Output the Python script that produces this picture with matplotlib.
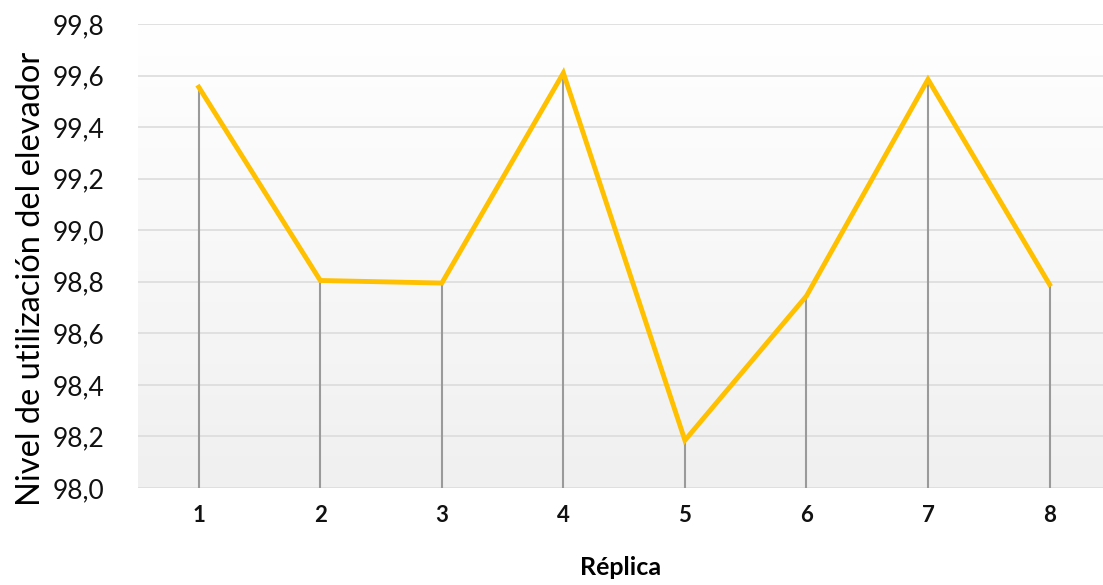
import numpy as np
import matplotlib
matplotlib.use("Agg")
import matplotlib.pyplot as plt
from matplotlib.colors import LinearSegmentedColormap

plt.rcParams['font.family'] = ['Lato', 'DejaVu Sans']

# data
replicas = [1, 2, 3, 4, 5, 6, 7, 8]
nivel = [99.555, 98.805, 98.795, 99.61, 98.185, 98.745, 99.585, 98.79]
yticks = [98.0, 98.2, 98.4, 98.6, 98.8, 99.0, 99.2, 99.4, 99.6, 99.8]
ytick_labels = ['98,0', '98,2', '98,4', '98,6', '98,8', '99,0', '99,2', '99,4', '99,6', '99,8']

fig = plt.figure(figsize=(11.03, 5.85), dpi=100)
ax = fig.add_axes([138/1103, 1 - 488/585, 1 - 138/1103, (488 - 24)/585])

x0, x1 = 0.5, 8.44
y0, y1 = 98.0, 99.8
ax.set_xlim(x0, x1)
ax.set_ylim(y0, y1)

# gradient background (white on top -> light gray at bottom)
cmap = LinearSegmentedColormap.from_list('bg', ['#f0f0f0', '#ffffff'])
grad = np.linspace(0, 1, 256).reshape(-1, 1)
ax.imshow(grad, aspect='auto', cmap=cmap, origin='lower',
          extent=[x0, x1, y0, y1], zorder=0)

for y in yticks:
    ax.axhline(y, color='#dcdcdc', lw=1.2, zorder=1)

# drop lines
ax.vlines(replicas, y0, nivel, color='#9a9a9a', lw=1.5, zorder=2)
ax.plot(replicas, nivel, color='#ffc000', lw=3.5, zorder=3, solid_joinstyle='miter')

for s in ax.spines.values():
    s.set_visible(False)

ax.set_yticks(yticks)
ax.set_yticklabels(ytick_labels, fontsize=19)
ax.set_xticks(replicas)
ax.set_xticklabels([str(r) for r in replicas], fontsize=16, fontweight='bold')
ax.tick_params(axis='both', length=0, colors='#111111')
ax.tick_params(axis='y', pad=24)
ax.tick_params(axis='x', pad=12)

ax.set_xlabel('Réplica', fontsize=18, fontweight='bold', labelpad=22)
ax.set_ylabel('Nivel de utilización del elevador', fontsize=23.5)
ax.yaxis.set_label_coords(-92/965, 0.45)

fig.savefig('out.png', dpi=100)
